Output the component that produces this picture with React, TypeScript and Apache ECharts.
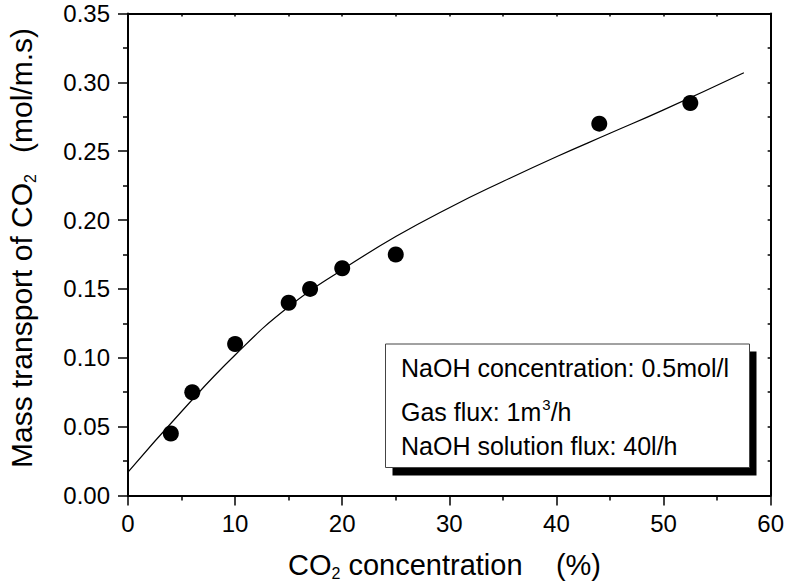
import React, { useEffect, useRef } from "react";
import * as echarts from "echarts";

// Measured points
const concentration = [4, 6, 10, 15, 17, 20, 25, 44, 52.5];
const massTransport = [0.045, 0.075, 0.11, 0.14, 0.15, 0.165, 0.175, 0.27, 0.285];

// Fitted curve
const fitX = [0, 5, 10, 15, 20, 25, 30, 35, 40, 45, 50, 57.5];
const fitY = [0.017, 0.061, 0.102, 0.137, 0.164, 0.188, 0.209, 0.228, 0.246, 0.263, 0.28, 0.307];

const xTicks = [0, 10, 20, 30, 40, 50, 60];
const yTicks = [0, 0.05, 0.1, 0.15, 0.2, 0.25, 0.3, 0.35];

const legendLines = ["NaOH concentration: 0.5mol/l", "Gas flux: 1m", "3", "/h", "NaOH solution flux: 40l/h"];

const FONT = '"Liberation Sans", Arial, Helvetica, sans-serif';

let measureCtx: CanvasRenderingContext2D | null = null;
function tw(text: string, size: number): number {
  if (!measureCtx) measureCtx = document.createElement("canvas").getContext("2d");
  if (!measureCtx) return text.length * size * 0.55;
  measureCtx.font = `${size}px ${FONT}`;
  return measureCtx.measureText(text).width;
}

// text element whose baseline sits at y (approximated with middle alignment)
function txt(text: string, x: number, baseline: number, size: number, align = "left") {
  return {
    type: "text",
    x,
    y: baseline - 0.35 * size,
    silent: true,
    style: {
      text,
      fontSize: size,
      fontFamily: FONT,
      fill: "#000",
      align,
      verticalAlign: "middle",
      textAlign: align,
      textVerticalAlign: "middle",
    },
  };
}

export default function App() {
  const ref = useRef<HTMLDivElement>(null);

  useEffect(() => {
    if (!ref.current) return;
    const chart = echarts.init(ref.current, null, { renderer: "svg" });

    const XT = 29; // x title size
    const YT = 30; // y title size
    const SUB = 16;

    // X title: CO2 concentration   (%)
    const xBase = 575;
    let cx = 288;
    const xTitle: any[] = [];
    xTitle.push(txt("CO", cx, xBase, XT));
    cx += tw("CO", XT);
    xTitle.push(txt("2", cx, xBase + 4, SUB));
    cx += tw("2", SUB);
    xTitle.push(txt(" concentration", cx, xBase, XT));
    xTitle.push(txt("(%)", 601, xBase, XT, "right"));

    // Y title (rotated group), local x runs upward
    let ly = 0;
    const yChildren: any[] = [];
    yChildren.push(txt("Mass transport of CO", ly, 0, YT));
    ly += tw("Mass transport of CO", YT);
    yChildren.push(txt("2", ly, 4, SUB));
    yChildren.push(txt("(mol/m.s)", 440, 0, YT, "right"));

    // Legend box text
    const LS = 25;
    const lx = 401;
    const legendTexts: any[] = [];
    legendTexts.push(txt(legendLines[0], lx, 377, LS));
    legendTexts.push(txt(legendLines[1], lx, 421, LS));
    const supX = lx + tw(legendLines[1], LS);
    legendTexts.push(txt(legendLines[2], supX + 1, 410, 15));
    legendTexts.push(txt(legendLines[3], supX + 1 + tw("3", 15), 421, LS));
    legendTexts.push(txt(legendLines[4], lx, 454.5, LS));

    const axisLine = { show: true, onZero: false, lineStyle: { color: "#000", width: 2 } };
    const tickStyle = { color: "#000", width: 1.5 };

    chart.setOption({
      animation: false,
      backgroundColor: "#fff",
      grid: { left: 128, right: 14.5, top: 13.5, bottom: 88.5, containLabel: false },
      xAxis: [
        {
          type: "value",
          min: xTicks[0],
          max: xTicks[xTicks.length - 1],
          interval: 10,
          axisLine,
          axisTick: { show: true, length: 10, lineStyle: tickStyle },
          minorTick: { show: true, splitNumber: 2, length: 5, lineStyle: tickStyle },
          axisLabel: { fontSize: 24, color: "#000", fontFamily: FONT, margin: 16 },
          splitLine: { show: false },
        },
        {
          type: "value",
          position: "top",
          min: 0,
          max: 60,
          interval: 5,
          axisLine,
          axisTick: { show: true, inside: true, length: 3, lineStyle: tickStyle },
          axisLabel: { show: false },
          splitLine: { show: false },
        },
      ],
      yAxis: [
        {
          type: "value",
          min: yTicks[0],
          max: yTicks[yTicks.length - 1],
          interval: 0.05,
          axisLine,
          axisTick: { show: true, length: 10, lineStyle: tickStyle },
          minorTick: { show: true, splitNumber: 2, length: 5, lineStyle: tickStyle },
          axisLabel: {
            fontSize: 24,
            color: "#000",
            fontFamily: FONT,
            margin: 18,
            formatter: (v: number) => v.toFixed(2),
          },
          splitLine: { show: false },
        },
        {
          type: "value",
          position: "right",
          min: 0,
          max: 0.35,
          interval: 0.025,
          axisLine,
          axisTick: { show: true, inside: true, length: 3, lineStyle: tickStyle },
          axisLabel: { show: false },
          splitLine: { show: false },
        },
      ],
      series: [
        {
          type: "line",
          data: fitX.map((x, i) => [x, fitY[i]]),
          smooth: true,
          showSymbol: false,
          symbol: "none",
          lineStyle: { color: "#000", width: 1.2 },
          xAxisIndex: 0,
          yAxisIndex: 0,
          z: 2,
        },
        {
          type: "scatter",
          data: concentration.map((x, i) => [x, massTransport[i]]),
          symbol: "circle",
          symbolSize: 16,
          itemStyle: { color: "#000", opacity: 1 },
          xAxisIndex: 0,
          yAxisIndex: 0,
          z: 3,
        },
      ],
      graphic: [
        {
          type: "rect",
          shape: { x: 392.5, y: 351.5, width: 364, height: 124 },
          style: { fill: "#000" },
          silent: true,
          z: 10,
        },
        {
          type: "rect",
          shape: { x: 385.5, y: 344, width: 364, height: 123.5 },
          style: { fill: "#fff", stroke: "#444", lineWidth: 1 },
          silent: true,
          z: 11,
        },
        ...legendTexts.map((t) => ({ ...t, z: 12 })),
        ...xTitle,
        {
          type: "group",
          x: 32,
          y: 468,
          rotation: Math.PI / 2,
          children: yChildren,
        },
      ],
    });

    return () => chart.dispose();
  }, []);

  return (
    <div
      ref={ref}
      style={{ position: "absolute", left: 0, top: 0, width: 787, height: 584, background: "#fff" }}
    />
  );
}
